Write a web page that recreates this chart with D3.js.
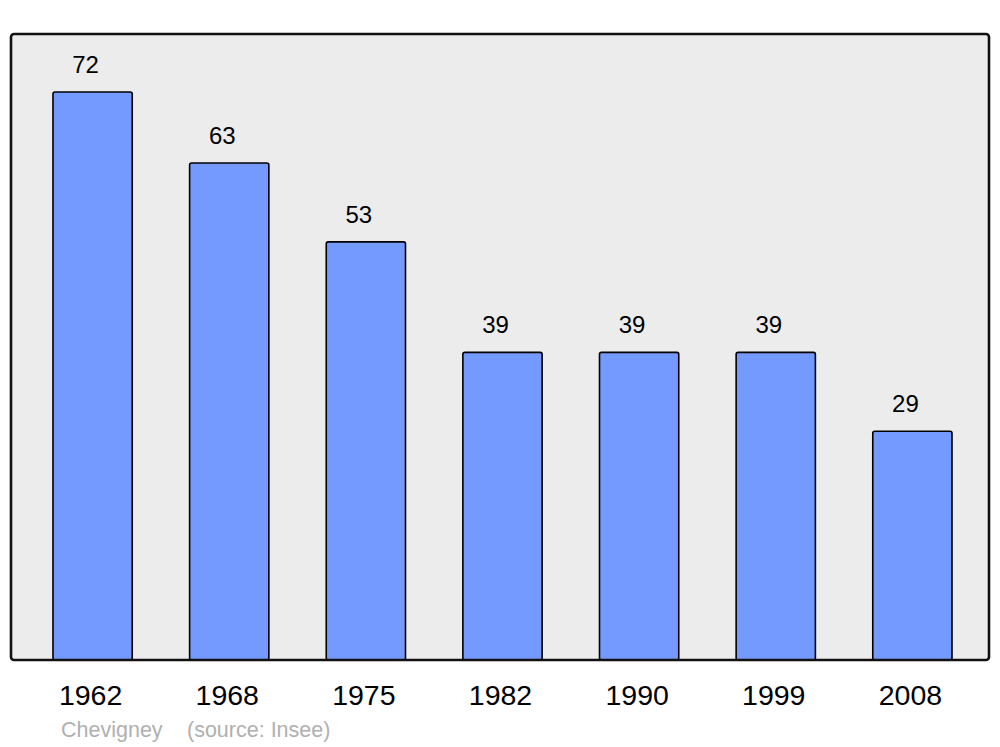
<!DOCTYPE html>
<html><head><meta charset="utf-8">
<script src="https://cdn.jsdelivr.net/npm/d3@7"></script>
<style>body{margin:0;background:#fff}svg{display:block}</style>
</head><body>
<svg id="c" width="1000" height="747"></svg>
<script>
const years = ["1962","1968","1975","1982","1990","1999","2008"];
const population = [72,63,53,39,39,39,29];
const footerName = "Chevigney";
const footerSource = "(source: Insee)";

const svg = d3.select("#c");
const pLeft = 11, pRight = 989, pTop = 34, pBottom = 660;

const x = d3.scaleBand().domain(years).range([12, 993]).paddingInner(0.42).paddingOuter(0.3);
const y = d3.scaleLinear().domain([0, 79.35]).range([pBottom, pTop]);

svg.append("rect").attr("x", pLeft).attr("y", pTop).attr("width", pRight-pLeft).attr("height", pBottom-pTop)
  .attr("rx", 3).attr("fill", "#ececec").attr("stroke", "none");

svg.selectAll("rect.bar").data(population).enter().append("rect").attr("class","bar")
  .attr("x", (d,i) => x(years[i])).attr("y", d => y(d))
  .attr("width", x.bandwidth()).attr("height", d => pBottom - y(d))
  .attr("rx", 2).attr("fill", "#7499ff").attr("stroke", "#000").attr("stroke-width", 1.6);

svg.append("rect").attr("x", pLeft).attr("y", pTop).attr("width", pRight-pLeft).attr("height", pBottom-pTop)
  .attr("rx", 3).attr("fill", "none").attr("stroke", "#111").attr("stroke-width", 2.6);

svg.selectAll("text.val").data(population).enter().append("text").attr("class","val")
  .attr("x", (d,i) => x(years[i]) + x.bandwidth()/2 - 7).attr("y", d => y(d) - 19)
  .attr("text-anchor","middle").attr("font-family","Liberation Sans, Arial, sans-serif")
  .attr("font-size", 24).attr("fill","#000").text(d => d);

const axis = d3.axisBottom(x).tickSize(0).tickPadding(0);
const g = svg.append("g").attr("transform", `translate(-2,${pBottom})`).call(axis);
g.select(".domain").remove();
g.selectAll("text").attr("y", 45).attr("dy", 0)
  .attr("font-family","Liberation Sans, Arial, sans-serif").attr("font-size", 28.5).attr("fill","#000");

svg.append("text").attr("x", 61).attr("y", 737).attr("font-family","Liberation Sans, Arial, sans-serif")
  .attr("font-size", 21.5).attr("fill","#b0b0b0").text(footerName);
svg.append("text").attr("x", 187).attr("y", 737).attr("font-family","Liberation Sans, Arial, sans-serif")
  .attr("font-size", 21.5).attr("fill","#b0b0b0").text(footerSource);
</script>
</body></html>
